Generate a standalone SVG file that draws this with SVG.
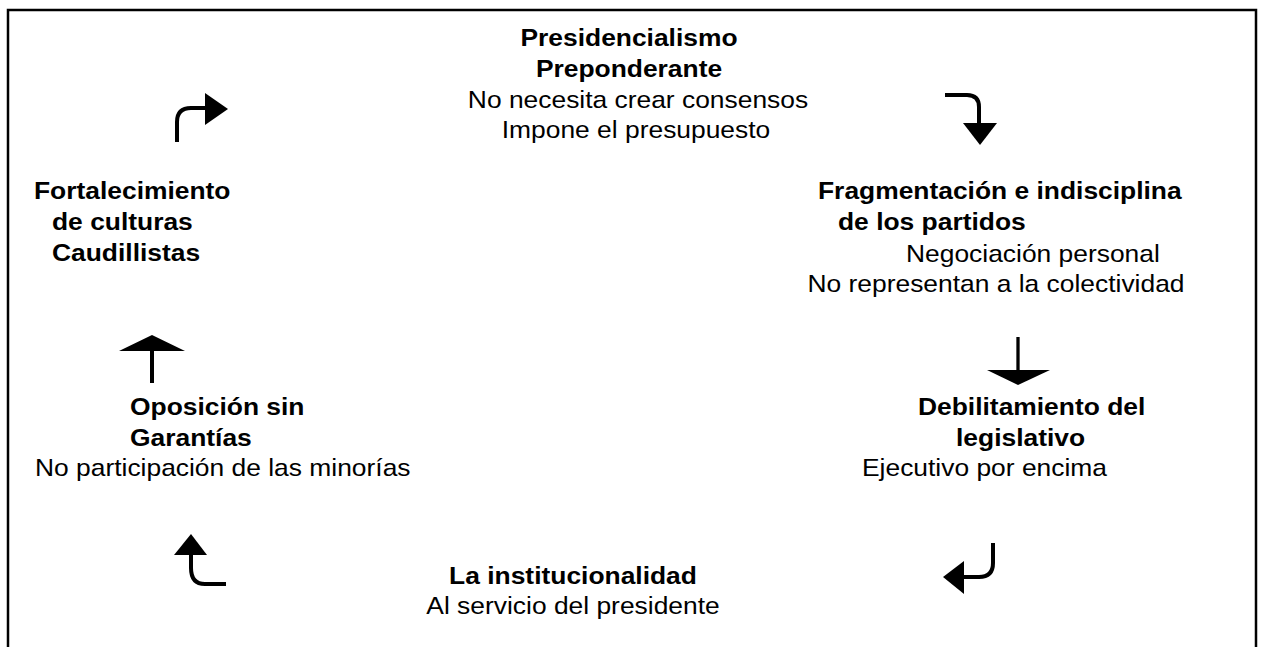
<svg xmlns="http://www.w3.org/2000/svg" width="1261" height="647" viewBox="0 0 1261 647">
<style>
text{font-family:"Liberation Sans",Arial,sans-serif;font-size:24px;fill:#000}
.b{font-weight:bold}
.m{text-anchor:middle}
.ln{fill:none;stroke:#000;stroke-width:4}
.hd{fill:#000;stroke:none}
</style>
<rect width="1261" height="647" fill="#fff"/>
<path d="M8,648 V10 H1256 V648" fill="none" stroke="#000" stroke-width="2.5"/>
<g id="presidencialismo">
<text class="b m" transform="translate(629,46) scale(1.1,1)">Presidencialismo</text>
<text class="b m" transform="translate(629,77) scale(1.1,1)">Preponderante</text>
<text class="m" transform="translate(638,108) scale(1.1,1)">No necesita crear consensos</text>
<text class="m" transform="translate(636,138) scale(1.1,1)">Impone el presupuesto</text>
</g>
<g id="fragmentacion">
<text class="b" transform="translate(818,199) scale(1.1,1)">Fragmentación e indisciplina</text>
<text class="b" transform="translate(838,230) scale(1.1,1)">de los partidos</text>
<text transform="translate(906,262) scale(1.1,1)">Negociación personal</text>
<text class="m" transform="translate(996,292) scale(1.1,1)">No representan a la colectividad</text>
</g>
<g id="debilitamiento">
<text class="b" transform="translate(918,415) scale(1.1,1)">Debilitamiento del</text>
<text class="b" transform="translate(956,446) scale(1.1,1)">legislativo</text>
<text transform="translate(862,476) scale(1.1,1)">Ejecutivo por encima</text>
</g>
<g id="institucionalidad">
<text class="b m" transform="translate(573,584) scale(1.1,1)">La institucionalidad</text>
<text class="m" transform="translate(573,614) scale(1.1,1)">Al servicio del presidente</text>
</g>
<g id="oposicion">
<text class="b" transform="translate(130,415) scale(1.1,1)">Oposición sin</text>
<text class="b" transform="translate(130,446) scale(1.1,1)">Garantías</text>
<text transform="translate(35,476) scale(1.1,1)">No participación de las minorías</text>
</g>
<g id="fortalecimiento">
<text class="b" transform="translate(34,199) scale(1.1,1)">Fortalecimiento</text>
<text class="b" transform="translate(52,230) scale(1.1,1)">de culturas</text>
<text class="b" transform="translate(52,261) scale(1.1,1)">Caudillistas</text>
</g>
<g id="connectors">
<path class="ln" d="M945,95 H967 Q979,95 979,107 V125"/>
<polygon class="hd" points="963,123 997,123 980,145"/>
<path class="ln" d="M1018,337 V372" style="stroke-width:3.3"/>
<polygon class="hd" points="987,370 1050,370 1018,385"/>
<path class="ln" d="M993,543 V563 Q993,577 979,577 H962"/>
<polygon class="hd" points="964,561 964,594 943,577"/>
<path class="ln" d="M226,584 H205 Q191,584 191,568 V553"/>
<polygon class="hd" points="174,555 207,555 191,534"/>
<path class="ln" d="M152,383 V349"/>
<polygon class="hd" points="119,351 185,351 152,335"/>
<path class="ln" d="M177,142 V122 Q177,108 191,108 H207"/>
<polygon class="hd" points="205,93 205,125 228,109"/>
</g>
</svg>
